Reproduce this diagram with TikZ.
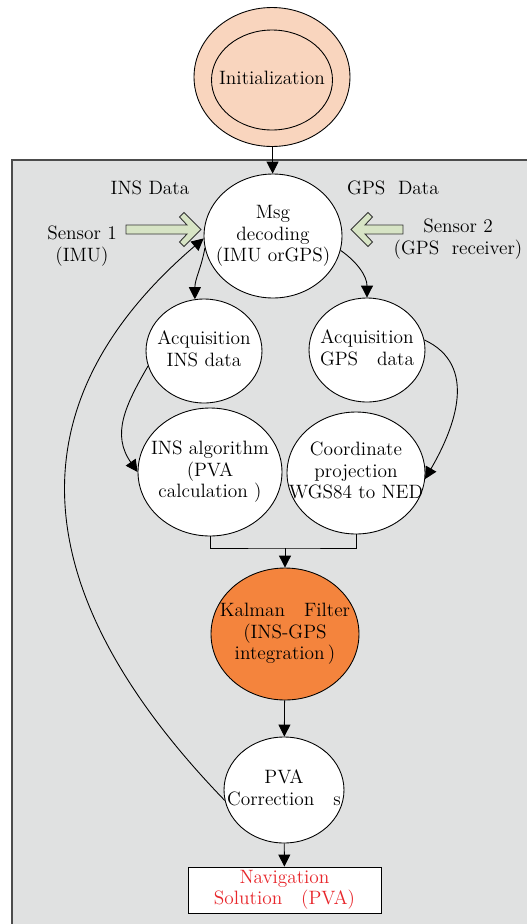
\documentclass[tikz,border=0pt]{standalone}
\usetikzlibrary{shapes.geometric,arrows.meta}
\definecolor{boxgray}{RGB}{224,225,225}
\definecolor{peach}{RGB}{249,213,190}
\definecolor{kforange}{RGB}{244,132,61}
\definecolor{sensorgreen}{RGB}{215,228,197}
\definecolor{navred}{RGB}{232,38,43}
\newcommand{\nodetext}[1]{\makebox[0pt]{\begin{tabular}{@{}c@{}}#1\end{tabular}}}
\tikzset{
  pics/fatarrow/.style={code={
    \draw[fill=sensorgreen,draw=black!80,line width=0.5pt]
      (0,0) -- (-17,-17) -- (-21.5,-12.5) -- (-14,-4.5) -- (-#1,-4.5)
      -- (-#1,4.5) -- (-14,4.5) -- (-21.5,12.5) -- (-17,17) -- cycle;
  }}
}
\begin{document}
\begin{tikzpicture}[x=0.02cm,y=-0.02cm,
	every node/.style={font=\fontsize{11}{12.3}\selectfont},
	state/.style={ellipse,draw,fill=white,inner sep=0pt,line width=0.5pt},
	flow/.style={-{Triangle[length=0.24cm,width=0.24cm]},line width=0.5pt}]
\clip (0,0) rectangle (527,924);
\draw[fill=boxgray,draw=black!70,line width=1pt] (12,160) rectangle (540,940);

% start
\node[state,fill=peach,minimum width=3.12cm,minimum height=2.78cm] (initout) at (272,77) {};
\node[state,fill=peach,minimum width=2.42cm,minimum height=2cm] (init) at (272,80) {\nodetext{Initialization}};

% decoding and sensors
\node[state,minimum width=2.76cm,minimum height=2.48cm] (msg) at (273,236) {\nodetext{Msg\\decoding\\(IMU orGPS)}};
\node (insdata) at (150,188) {INS Data};
\node (gpsdata) at (393,188) {GPS\ \ Data};
\node[align=center] (sensor1) at (82,246) {Sensor 1\\(IMU)};
\node[align=center] (sensor2) at (458,239) {Sensor 2\\(GPS\ \ receiver)};
\pic at (201,229.5) {fatarrow=75};
\pic[xscale=-1] at (351,229.5) {fatarrow=52};

% two branches
\node[state,minimum width=2.32cm,minimum height=2.08cm] (acqins) at (204,351) {\nodetext{Acquisition\\INS data}};
\node[state,minimum width=2.32cm,minimum height=2.08cm] (acqgps) at (367,350) {\nodetext{Acquisition\\GPS\ \ \ data}};
\node[state,minimum width=2.88cm,minimum height=2.56cm] (insalg) at (210,472) {\nodetext{INS algorithm\\(PVA\\calculation\ )}};
\node[state,minimum width=2.76cm,minimum height=2.44cm] (coordproj) at (356,473) {\nodetext{Coordinate\\projection\\WGS84 to NED}};

% fusion
\coordinate (merge) at (285,548);
\node[state,fill=kforange,minimum width=2.96cm,minimum height=2.64cm] (kalman) at (285,634) {\nodetext{Kalman\ \ \ Filter\\(INS-GPS\\integration\,)}};
\node[state,minimum width=2.4cm,minimum height=2.12cm] (pva) at (284,790) {\nodetext{PVA\\Correction\ \ \ s}};
\node[draw,fill=white,minimum width=3.86cm,minimum height=0.92cm,inner sep=0pt,
	align=center,text=navred,line width=0.5pt] (nav) at (284.5,890) {Navigation\\Solution\ \ \ (PVA)};

% connectors
\draw[flow] (initout) -- (msg);
\draw[flow] (msg.190) to[out=-100,in=90] (acqins.100);
\draw[flow] (msg.-12) to[out=-35,in=90] (acqgps.north);
\draw[flow] (acqins.195) to[out=-120,in=125,looseness=1.1] (insalg.west);
\draw[flow] (acqgps.10) to[out=-25,in=60,looseness=1.1] (coordproj.-5);
\draw[line width=0.5pt] (insalg.south) |- (merge) -| (coordproj.south);
\draw[flow] (merge) -- (kalman);
\draw[flow] (kalman) -- (pva);
\draw[flow] (pva) -- (nav);
\draw[flow] (pva.190) .. controls (60,630) and (-20,430) .. (msg.182);
\end{tikzpicture}
\end{document}
